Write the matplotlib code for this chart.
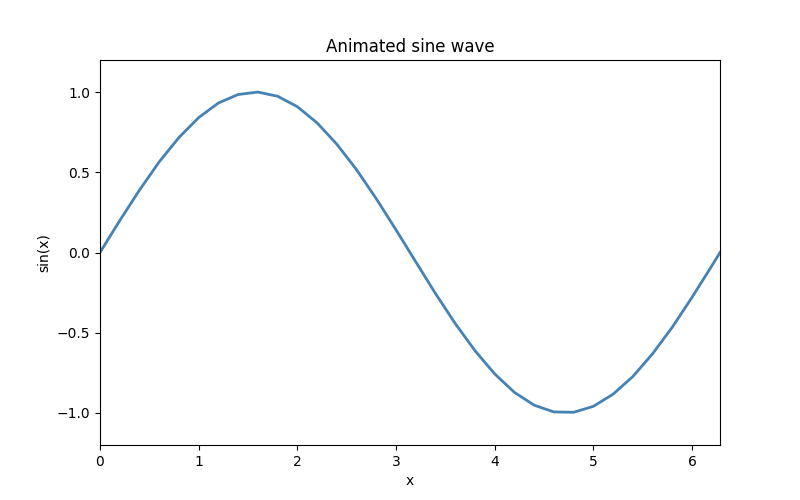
import matplotlib
matplotlib.use("Agg")
from matplotlib import pyplot as plt

# values
x = [0.0, 0.2, 0.4, 0.6, 0.8, 1.0, 1.2, 1.4, 1.6, 1.8, 2.0, 2.2, 2.4, 2.6, 2.8, 3.0,
     3.2, 3.4, 3.6, 3.8, 4.0, 4.2, 4.4, 4.6, 4.8, 5.0, 5.2, 5.4, 5.6, 5.8, 6.0, 6.2, 6.283]
y = [0.0, 0.199, 0.389, 0.565, 0.717, 0.841, 0.932, 0.985, 1.0, 0.974, 0.909, 0.808,
     0.675, 0.516, 0.335, 0.141, -0.058, -0.256, -0.443, -0.612, -0.757, -0.872,
     -0.952, -0.994, -0.996, -0.959, -0.883, -0.773, -0.631, -0.465, -0.279, -0.083, 0.0]

fig, ax = plt.subplots(figsize=(8, 5), dpi=100)
ax.plot(x, y, color="steelblue", linewidth=2)
ax.set_xlim(0, 6.283)
ax.set_ylim(-1.2, 1.2)
ax.set_title("Animated sine wave")
ax.set_xlabel("x")
ax.set_ylabel("sin(x)")
fig.savefig("out.png")
